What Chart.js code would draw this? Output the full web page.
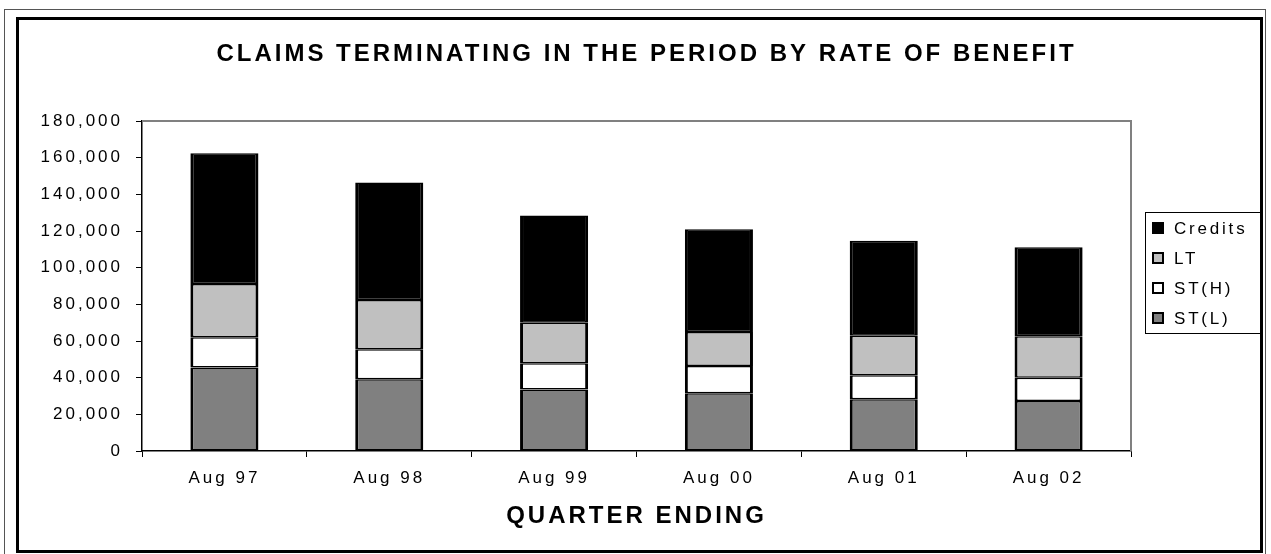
<!DOCTYPE html>
<html><head><meta charset="utf-8">
<script src="https://cdn.jsdelivr.net/npm/chart.js@4.4.1/dist/chart.umd.min.js"></script>
<style>
html,body{margin:0;padding:0;background:#fff;}
#wrap{position:relative;width:1271px;height:554px;overflow:hidden;}
#outer{position:absolute;left:4px;top:9px;width:1262px;height:560px;border:1px solid #555;box-sizing:border-box;}
#inner{position:absolute;left:16px;top:17px;width:1247px;height:536px;border:3px solid #000;box-sizing:border-box;}
canvas{position:absolute;left:0;top:0;}
</style></head><body>
<div id="wrap"><div id="outer"></div><div id="inner"></div><canvas id="c" width="1271" height="554"></canvas></div>
<script>
const categories = ['Aug 97', 'Aug 98', 'Aug 99', 'Aug 00', 'Aug 01', 'Aug 02'];
const stLow   = [45500, 39100, 33600, 31500, 28200, 27300];
const stHigh  = [16500, 16400, 14200, 14900, 13100, 12700];
const ltVals  = [29100, 26900, 22200, 18500, 21600, 22600];
const credits = [71300, 64100, 58400, 56000, 51800, 48500];
const yMin = 0, yMax = 180000, yStep = 20000;
const chartTitle = 'CLAIMS TERMINATING IN THE PERIOD BY RATE OF BENEFIT';
const xTitle = 'QUARTER ENDING';

const FONT = '"Liberation Sans", Arial, sans-serif';
const SP = '3px';

const spacingPlugin = {
  id: 'spacing',
  beforeUpdate(c) { c.ctx.letterSpacing = SP; },
  beforeLayout(c) { c.ctx.letterSpacing = SP; },
  beforeDraw(c) { c.ctx.letterSpacing = SP; }
};

const plotBorder = {
  id: 'plotBorder',
  beforeDatasetsDraw(chart) {
    const a = chart.chartArea, ctx = chart.ctx;
    ctx.save();
    ctx.strokeStyle = '#808080';
    ctx.lineWidth = 2;
    ctx.beginPath();
    ctx.moveTo(a.left, a.top);
    ctx.lineTo(a.right, a.top);
    ctx.lineTo(a.right, a.bottom);
    ctx.stroke();
    ctx.restore();
  }
};

const boxLegend = {
  id: 'boxLegend',
  afterDraw(chart) {
    const ctx = chart.ctx, a = chart.chartArea;
    const x0 = a.right + 14, y0 = a.top + 91, w = 115, h = 121;
    ctx.save();
    ctx.letterSpacing = '2.8px';
    ctx.strokeStyle = '#000';
    ctx.lineWidth = 1;
    ctx.strokeRect(x0 + 0.5, y0 + 0.5, w, h);
    const ds = chart.data.datasets.slice().reverse();
    ds.forEach((d, i) => {
      const cy = y0 + 16 + i * 30;
      ctx.fillStyle = d.backgroundColor;
      ctx.fillRect(x0 + 8, cy - 5, 10, 10);
      ctx.lineWidth = 2;
      ctx.strokeStyle = '#000';
      ctx.strokeRect(x0 + 8, cy - 5, 10, 10);
      ctx.fillStyle = '#000';
      ctx.font = '17px ' + FONT;
      ctx.textBaseline = 'middle';
      ctx.textAlign = 'left';
      ctx.fillText(d.label, x0 + 29, cy + 1);
    });
    ctx.restore();
  }
};

const mk = (label, data, color) => ({
  label, data, backgroundColor: color, borderColor: '#000',
  borderWidth: { top: 1.5, bottom: 1.5, left: 3, right: 3 },
  borderSkipped: false, barPercentage: 0.413, categoryPercentage: 1.0
});

new Chart(document.getElementById('c'), {
  type: 'bar',
  data: {
    labels: categories,
    datasets: [
      mk('ST(L)', stLow, '#808080'),
      mk('ST(H)', stHigh, '#FFFFFF'),
      mk('LT', ltVals, '#C0C0C0'),
      mk('Credits', credits, '#000000')
    ]
  },
  options: {
    responsive: false,
    animation: false,
    layout: { padding: { left: 22, right: 0, top: 0, bottom: 0 } },
    plugins: {
      legend: { display: false },
      tooltip: { enabled: false },
      title: {
        display: true, text: chartTitle, color: '#000',
        font: { family: FONT, size: 24, weight: 'bold' },
        padding: { top: 39.6, bottom: 52.6 }
      }
    },
    scales: {
      x: {
        stacked: true,
        grid: { drawOnChartArea: false, drawTicks: true, tickLength: 6, color: '#000', offset: true },
        border: { color: '#000', width: 1.5 },
        ticks: { color: '#000', font: { family: FONT, size: 17 }, padding: 10.8, maxRotation: 0 },
        title: { display: true, text: xTitle, color: '#000', font: { family: FONT, size: 24, weight: 'bold' }, padding: { top: 0, bottom: 23.6 } },
        afterFit(s) { s.height = 103; }
      },
      y: {
        stacked: true, min: yMin, max: yMax,
        grid: { drawOnChartArea: false, drawTicks: true, tickLength: 6, color: '#000' },
        border: { color: '#000', width: 1.5 },
        ticks: { stepSize: yStep, color: '#000', font: { family: FONT, size: 17 }, padding: 13,
          callback: v => v.toLocaleString('en-US') },
        afterFit(s) { s.width = 120; }
      },
      y2: {
        position: 'right', display: true,
        grid: { display: false, drawTicks: false }, border: { display: false },
        ticks: { display: false },
        afterFit(s) { s.width = 140; }
      }
    }
  },
  plugins: [spacingPlugin, plotBorder, boxLegend]
});
</script>
</body></html>
